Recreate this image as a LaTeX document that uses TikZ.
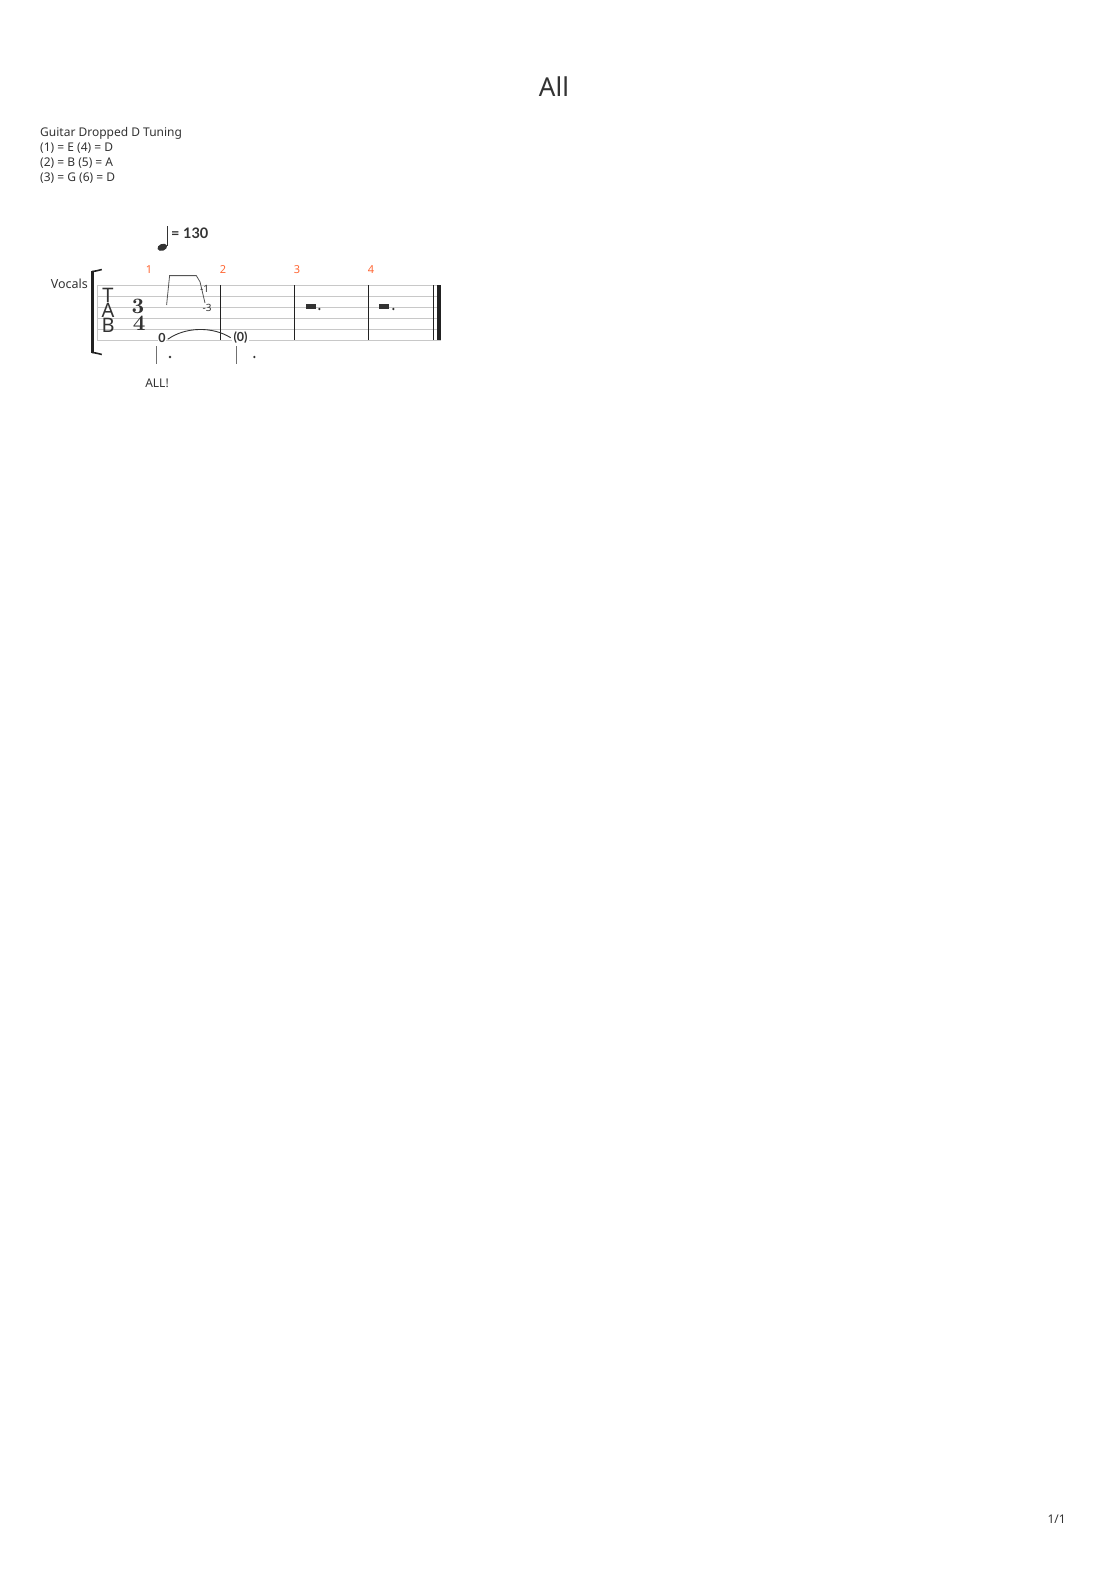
\documentclass[tikz,border=0pt]{standalone}
\usepackage{fontspec}
\setmainfont{Noto Sans}
\newfontfamily\lmbold{lmroman10-bold.otf}
\newfontfamily\bsans{Lato}
\definecolor{txt}{HTML}{333333}
\definecolor{staffc}{HTML}{C8C8C8}
\definecolor{barc}{HTML}{222222}
\definecolor{meas}{HTML}{FF6633}
\definecolor{bendc}{HTML}{555555}
\tikzset{
  plain/.style={inner sep=0pt, text=txt},
  measnum/.style={inner sep=0pt, text=meas, font=\fontsize{11}{13}\selectfont, anchor=base},
  hdr/.style={inner sep=0pt, text=txt, anchor=base west, font=\fontsize{12}{15}\selectfont},
  stafflines/.style={draw=staffc, line width=0.9pt},
  barline/.style={draw=barc, line width=1pt},
  fret/.style={inner sep=0pt, text=txt, font=\fontsize{12.5}{13}\selectfont\bsans\bfseries},
  tablet/.style={inner sep=0pt, text=txt, font=\fontsize{20}{21}\selectfont},
  tsig/.style={inner sep=0pt, text=txt, font=\fontsize{22}{23}\selectfont\lmbold},
}
\begin{document}
\begin{tikzpicture}[x=1pt,y=-1pt]
\useasboundingbox[fill=white] (0,0) rectangle (1110,1570);

% title and header
\node[plain, font=\fontsize{26}{30}\selectfont] (title) at (554,87) {All};
\node[hdr] (h1) at (40,136.5) {Guitar Dropped D Tuning};
\node[hdr] (h2) at (40,151.5) {(1) = E (4) = D};
\node[hdr] (h3) at (40,166.5) {(2) = B (5) = A};
\node[hdr] (h4) at (40,181.5) {(3) = G (6) = D};

% tempo
\draw[txt, line width=1pt] (167,226.5) -- (167,246.5);
\fill[txt, rotate around={20:(162.3,247.3)}] (162.3,247.3) ellipse [x radius=5pt, y radius=3.4pt];
\node[plain, anchor=base west, font=\fontsize{14.5}{16}\selectfont\bsans\bfseries] (tempo) at (171,239) {= 130};

% instrument name
\node[plain, anchor=base east, font=\fontsize{12.5}{15}\selectfont] (vocals) at (88,288) {Vocals};

% bracket
\fill[barc] (91,271) rectangle (93.6,353);
\draw[barc, line width=1.6pt] (92,271.6) .. controls (96,271) .. (101.8,269.5);
\draw[barc, line width=1.6pt] (92,352.4) .. controls (96,353) .. (101.8,354.5);

% staff
\foreach \yy in {285,296,307,318.3,329.3,340.3}
  \draw[stafflines] (97.3,\yy) -- (441,\yy);
\draw[draw=staffc, line width=1pt] (97.5,285) -- (97.5,340.3);
\foreach \xx in {220,294.3,368.3}
  \draw[barline] (\xx,285) -- (\xx,340.3);
\draw[barline] (433.3,285) -- (433.3,340.3);
\fill[barc] (436.6,285) rectangle (441,340.3);

% measure numbers
\node[measnum] (m1) at (149,273) {1};
\node[measnum] (m2) at (223,273) {2};
\node[measnum] (m3) at (297,273) {3};
\node[measnum] (m4) at (371,273) {4};

% TAB and time signature
\node[tablet] (tT) at (108,295.6) {T};
\node[tablet] (tA) at (108,310.3) {A};
\node[tablet] (tB) at (108,325.6) {B};
\node[tsig] (ts3) at (138,306) {3};
\node[tsig] (ts4) at (139.3,323.3) {4};

% bend
\draw[bendc, line width=0.8pt] (166.6,305) -- (169.6,275.6) -- (196.3,275.6) -- (200,281.8) -- (205,303);
\node[plain, font=\fontsize{10}{11}\selectfont] (b1) at (204.5,288.5) {-1};
\node[plain, font=\fontsize{10}{11}\selectfont] (b3) at (207,307.5) {-3};

% fret numbers and tie
\fill[white] (158,333) rectangle (166,343);
\fill[white] (232,333) rectangle (249,343);
\node[fret] (f0) at (162,338) {0};
\node[fret] (f0b) at (240.6,338) {(0)};
\draw[txt, line width=0.9pt] (167.7,339.3) .. controls (185,327) and (212,326) .. (230.7,337.7);

% stems and dots
\draw[draw=txt!70, line width=0.9pt] (156.8,346) -- (156.8,363.5);
\fill[txt] (170,357) circle (1.3pt);
\draw[draw=txt!70, line width=0.9pt] (236,346) -- (236,363.5);
\fill[txt] (254.3,357) circle (1.3pt);

% rests
\fill[txt] (306,303.8) rectangle (315.6,308.8);
\fill[txt] (319.4,309) circle (1.3pt);
\fill[txt] (379,303.8) rectangle (388.6,308.8);
\fill[txt] (393.3,309) circle (1.3pt);

% lyric
\node[plain, anchor=base, font=\fontsize{12}{14}\selectfont] (lyr) at (157,387) {ALL!};

% page number
\node[plain, anchor=base east, font=\fontsize{12}{14}\selectfont] (pg) at (1066,1523) {1/1};
\end{tikzpicture}
\end{document}
